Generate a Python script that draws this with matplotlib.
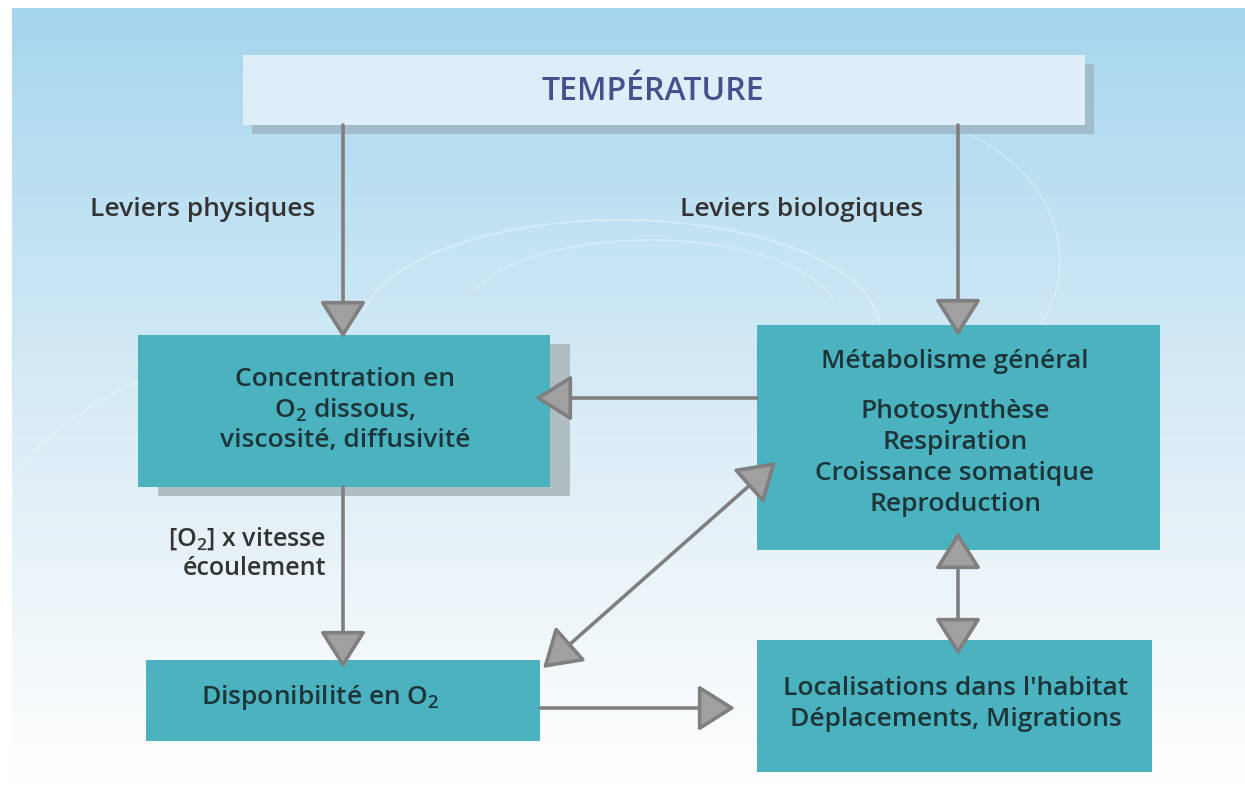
import matplotlib.pyplot as plt
import numpy as np
from matplotlib.patches import Rectangle, FancyArrowPatch, ArrowStyle
from matplotlib.colors import LinearSegmentedColormap

plt.rcParams['font.family'] = ['Open Sans', 'DejaVu Sans']
plt.rcParams['font.weight'] = 'semibold'
plt.rcParams['mathtext.fontset'] = 'custom'
plt.rcParams['mathtext.rm'] = 'Open Sans:semibold'

# texts of the diagram
titre = "TEMPÉRATURE"
boites = {
    "conc": "Concentration en\nO$_2$ dissous,\nviscosité, diffusivité",
    "dispo": "Disponibilité en O$_2$",
    "local": "Localisations dans l'habitat\nDéplacements, Migrations",
}
metab_titre = "Métabolisme général"
metab_items = ["Photosynthèse", "Respiration", "Croissance somatique", "Reproduction"]
label_phys = "Leviers physiques"
label_bio = "Leviers biologiques"
label_o2 = "[O$_2$] x vitesse\nécoulement"

# layout in pixel coordinates (x0, y0, x1, y1)
pos = {
    "temp": (243, 55, 1085, 125),
    "conc": (138, 335, 550, 487),
    "metab": (757, 325, 1160, 550),
    "dispo": (146, 660, 540, 741),
    "local": (757, 640, 1152, 772),
}

W, H = 1245, 786
fig = plt.figure(figsize=(W / 100, H / 100), dpi=100)
ax = fig.add_axes([0, 0, 1, 1])
ax.set_xlim(0, W)
ax.set_ylim(H, 0)
ax.axis('off')

# background gradient
cmap = LinearSegmentedColormap.from_list(
    'bg', [(0, '#a6d5ee'), (0.3, '#c3e3f3'), (0.55, '#dcedf6'), (0.78, '#eef6fa'), (1, '#ffffff')])
grad = np.linspace(0, 1, 400).reshape(-1, 1)
ax.imshow(grad, cmap=cmap, extent=(12, W, H, 8), aspect='auto', zorder=0)

# faint swirls
for cx, cy, rx, ry, a0, a1, lw in [(620, 330, 260, 110, 3.3, 6.2, 1.5), (650, 320, 190, 80, 3.5, 6.0, 1.2),
                                   (860, 260, 200, 150, 4.5, 7.5, 1.2), (300, 600, 330, 250, 3.2, 4.8, 1.0)]:
    tt = np.linspace(a0, a1, 200)
    ax.plot(cx + rx * np.cos(tt), cy + ry * np.sin(tt), color='white', alpha=0.3, lw=lw, zorder=1)

teal = '#4ab3bf'
textc = '#1d3539'
labc = '#333333'

def box(key, color, shadow=None):
    x0, y0, x1, y1 = pos[key]
    if shadow is not None:
        dx, dy, sc = shadow
        ax.add_patch(Rectangle((x0 + dx, y0 + dy), x1 - x0, y1 - y0, color=sc, zorder=2, lw=0))
    ax.add_patch(Rectangle((x0, y0), x1 - x0, y1 - y0, color=color, zorder=3, lw=0))

box("temp", '#ddeef8', shadow=(9, 9, '#a3bccb'))
box("conc", teal, shadow=(20, 9, '#b0bec3'))
box("metab", teal)
box("dispo", teal)
box("local", teal)

fs = 19
ax.text(653, 91, titre, ha='center', va='center', fontsize=23, color='#45508c', zorder=5)
ax.text(345, 410, boites["conc"], ha='center', va='center', fontsize=fs, color=textc,
        linespacing=1.22, zorder=5)
ax.text(320, 697, boites["dispo"], ha='center', va='center', fontsize=fs, color=textc, zorder=5)
ax.text(956, 704, boites["local"], ha='center', va='center', fontsize=fs, color=textc,
        linespacing=1.3, zorder=5)
ax.text(955, 362, metab_titre, ha='center', va='center', fontsize=fs, color=textc, zorder=5)
ax.text(955, 458, "\n".join(metab_items), ha='center', va='center', fontsize=fs, color=textc,
        linespacing=1.3, zorder=5)

ax.text(90, 209, label_phys, ha='left', va='center', fontsize=19, color=labc, zorder=5)
ax.text(680, 209, label_bio, ha='left', va='center', fontsize=19, color=labc, zorder=5)
ax.text(326, 553, label_o2, ha='right', va='center', fontsize=18, color=labc,
        linespacing=1.2, zorder=5)

def arrow(p0, p1, both=False):
    style = ArrowStyle('<|-|>' if both else '-|>', head_length=2.3, head_width=1.45)
    a = FancyArrowPatch(p0, p1, arrowstyle=style, mutation_scale=10, fc='#a0a0a0',
                        ec='#7f7f7f', lw=2.6, shrinkA=0, shrinkB=0, zorder=4)
    ax.add_patch(a)

arrow((343, 125), (343, 338))
arrow((958, 125), (958, 336))
arrow((757, 398), (535, 398))
arrow((343, 487), (343, 668))
arrow((543, 668), (776, 462), both=True)
arrow((958, 532), (958, 655), both=True)
arrow((540, 708), (735, 708))

fig.savefig('out.png', dpi=100)
